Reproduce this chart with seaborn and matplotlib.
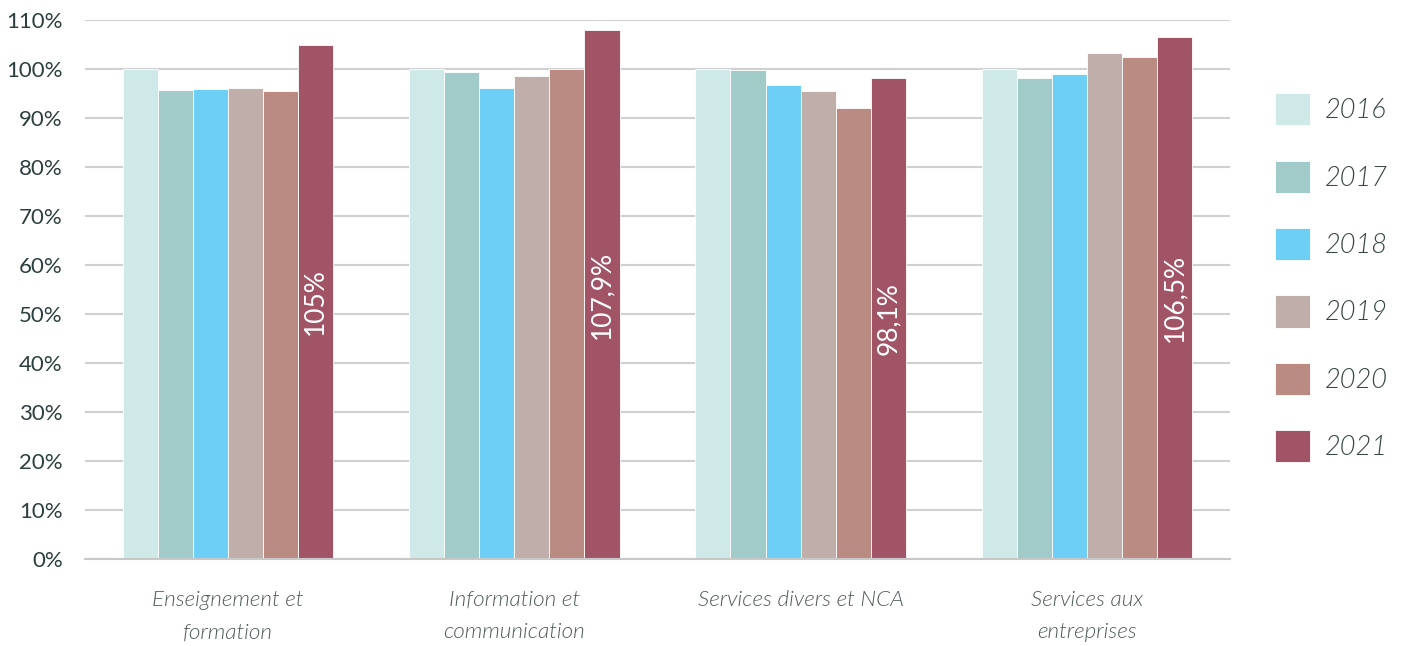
import pandas as pd
import seaborn as sns
import matplotlib.pyplot as plt
from matplotlib.ticker import MultipleLocator, FuncFormatter

# values (index, 2016 = 100%)
sectors = ['Enseignement et\nformation', 'Information et\ncommunication',
           'Services divers et NCA', 'Services aux\nentreprises']
years = ['2016', '2017', '2018', '2019', '2020', '2021']
v2016 = [100.0, 100.0, 100.0, 100.0]
v2017 = [95.7, 99.3, 99.7, 98.2]
v2018 = [96.0, 96.1, 96.8, 99.0]
v2019 = [96.1, 98.6, 95.5, 103.2]
v2020 = [95.5, 100.1, 92.0, 102.4]
v2021 = [105.0, 107.9, 98.1, 106.5]
labels_2021 = ['105%', '107,9%', '98,1%', '106,5%']
colors = ['#cfe8e8', '#a0cbc8', '#6dcff6', '#bfaeaa', '#b98b82', '#a25467']

rows = []
for year, vals in zip(years, [v2016, v2017, v2018, v2019, v2020, v2021]):
    for sector, v in zip(sectors, vals):
        rows.append({'Secteur': sector, 'Année': year, 'Valeur': v / 100})
df = pd.DataFrame(rows)

sns.set_style('white')
plt.rcParams['font.family'] = ['Lato', 'DejaVu Sans']

fig = plt.figure(figsize=(14.02, 6.46), dpi=100)
ax = fig.add_axes([0.0606, 0.1347, 0.8167, 0.8343])

sns.barplot(data=df, x='Secteur', y='Valeur', hue='Année', order=sectors,
            hue_order=years, palette=colors, width=0.735, ax=ax,
            edgecolor='white', linewidth=0.6, saturation=1, legend=True)

ax.set_ylim(0, 1.10)
ax.set_xlim(-0.5, 3.5)
ax.yaxis.set_major_locator(MultipleLocator(0.1))
ax.yaxis.set_major_formatter(FuncFormatter(lambda v, p: f'{v * 100:.0f}%'))
ax.grid(axis='y', color='#d0d0d0', linewidth=1.5)
ax.set_axisbelow(True)
for s in ['left', 'right', 'top']:
    ax.spines[s].set_visible(False)
ax.spines['bottom'].set_color('#c8c8c8')
ax.spines['bottom'].set_linewidth(1.5)
ax.tick_params(axis='y', labelsize=16, colors='#2d3e3e', length=0, pad=16)
ax.tick_params(axis='x', labelsize=16.2, colors='#4f5a5a', length=0, pad=22)
for t in ax.get_xticklabels():
    t.set_fontstyle('italic')
    t.set_fontweight(300)
    t.set_linespacing(1.8)
ax.set_xlabel('')
ax.set_ylabel('')

# rotated labels inside the 2021 bars
ax.bar_label(ax.containers[-1], labels=labels_2021, label_type='center',
             rotation=90, color='white', fontsize=19)

handles, lbls = ax.get_legend_handles_labels()
ax.legend_.remove()
leg = fig.legend(handles, lbls, loc='center left', bbox_to_anchor=(0.892, 0.57),
                 frameon=False, fontsize=19.5, handlelength=1.3, handleheight=1.45,
                 labelspacing=1.3, handletextpad=0.55)
for t in leg.get_texts():
    t.set_fontstyle('italic')
    t.set_fontweight(300)
    t.set_color('#3a4747')

fig.savefig('out.png', dpi=100)
